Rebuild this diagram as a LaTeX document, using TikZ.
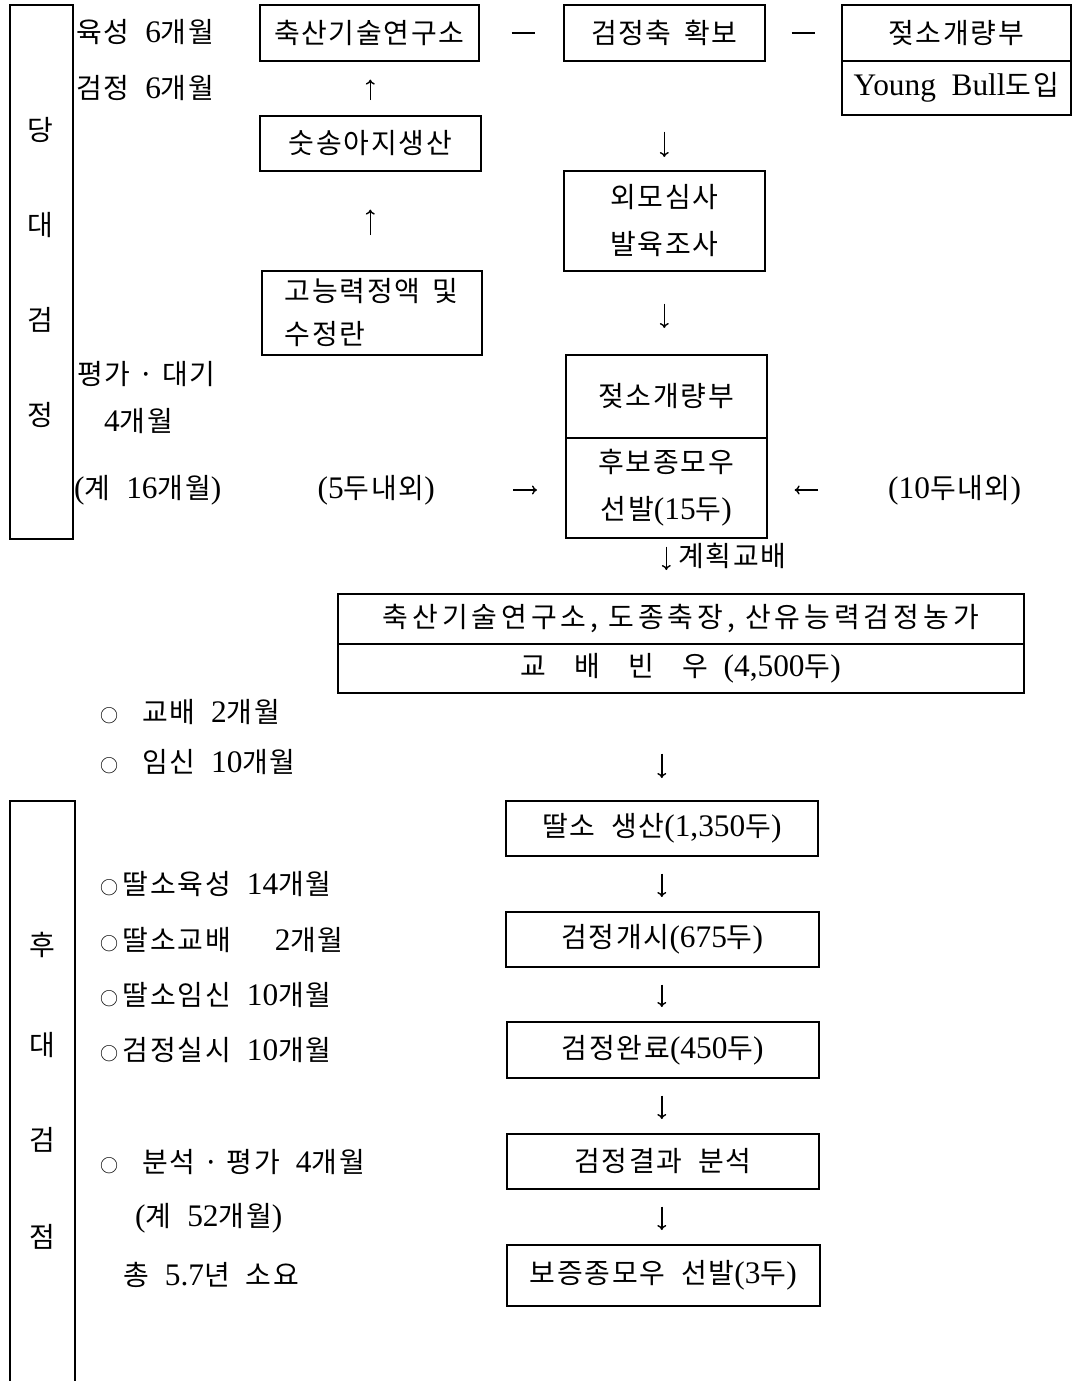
\documentclass[tikz,border=0pt]{standalone}
\usepackage{fontspec}
\setmainfont[LetterSpace=6]{Noto Sans CJK KR}
\newfontfamily\lat[Scale=1.12]{Liberation Serif}
\newcommand\nm[1]{{\lat #1}}
\newcommand\cir{{\fontsize{18}{18}\selectfont ○}}
\usetikzlibrary{arrows.meta}
\begin{document}
\begin{tikzpicture}[x=1pt,y=-1pt,
  every node/.style={font=\fontsize{28}{47}\selectfont, inner sep=0pt},
  box/.style={draw, line width=1.6pt, anchor=north west},
  lbl/.style={anchor=west},
  arr/.style={line width=1.4pt, -{To[length=5pt,width=9pt]}},
  joinline/.style={line width=2pt}]
\useasboundingbox (0,0) rectangle (1081,1381);
\fill[white] (0,0) rectangle (1081,1381);

% left period boxes
\node[box, minimum width=63pt, minimum height=534pt] (dangdae) at (9,4) {};
\node (c1) at (40,130) {당};
\node (c2) at (40,225) {대};
\node (c3) at (40,320) {검};
\node (c4) at (40,415) {정};
\node[box, minimum width=65pt, minimum height=640pt] (hudae) at (9,800) {};
\node (c5) at (42,945) {후};
\node (c6) at (42,1045) {대};
\node (c7) at (42,1140) {검};
\node (c8) at (42,1237) {점};

% top row
\node[box, minimum width=219pt, minimum height=56pt] (ch) at (259,4) {축산기술연구소};
\node[box, minimum width=201pt, minimum height=56pt] (gj) at (563,4) {검정축 \,확보};
\node[box, minimum width=229pt, minimum height=56pt] (js1) at (841,4) {젖소개량부};
\node[box, minimum width=229pt, minimum height=54pt] (yb) at (841,60) {\nm{Young \ Bull}도입};
\node[box, minimum width=221pt, minimum height=55pt] (sus) at (259,115) {숫송아지생산};
\node[box, minimum width=220pt, minimum height=84pt, align=left, font=\fontsize{28}{43}\selectfont] (go) at (261,270) {고능력정액 \,및\\수정란};
\node[box, minimum width=201pt, minimum height=100pt, align=center] (oe) at (563,170) {외모심사\\발육조사};
\node[box, minimum width=201pt, minimum height=83pt] (js2) at (565,354) {젖소개량부};
\node[box, minimum width=201pt, minimum height=100pt, align=center] (hubo) at (565,437) {후보종모우\\선발\nm{(15}두\nm{)}};

% big box
\node[box, minimum width=686pt, minimum height=50pt, font=\fontsize{28}{47}\selectfont\addfontfeature{LetterSpace=14}] (big1) at (337,593) {축산기술연구소, 도종축장, 산유능력검정농가};
\node[box, minimum width=686pt, minimum height=49pt] (big2) at (337,643) {교\quad 배\quad 빈\quad 우 \ \nm{(4,500}두\nm{)}};

% lower boxes
\node[box, minimum width=312pt, minimum height=55pt] (d1) at (505,800) {딸소 \ 생산\nm{(1,350}두\nm{)}};
\node[box, minimum width=313pt, minimum height=55pt] (d2) at (505,911) {검정개시\nm{(675}두\nm{)}};
\node[box, minimum width=312pt, minimum height=56pt] (d3) at (506,1021) {검정완료\nm{(450}두\nm{)}};
\node[box, minimum width=312pt, minimum height=55pt] (d4) at (506,1133) {검정결과 \ 분석};
\node[box, minimum width=313pt, minimum height=61pt] (d5) at (506,1244) {보증종모우 \ 선발\nm{(3}두\nm{)}};

% connectors top row
\draw[joinline, shorten <=32pt, shorten >=28pt] (ch.east) -- (gj.west);
\draw[joinline, shorten <=26pt, shorten >=26pt] (gj.east) -- (js1.west);

% vertical arrows
\draw[arr, shorten <=15pt, shorten >=18pt] (sus.north) -- (sus.north |- ch.south);
\draw[arr, shorten <=35pt, shorten >=38pt] (go.north -| sus.north) -- (sus.south);
\draw[arr, shorten <=70pt, shorten >=13pt] (gj.south) -- (oe.north);
\draw[arr, shorten <=32pt, shorten >=26pt] (oe.south) -- (oe.south |- js2.north);
\draw[arr, shorten <=8pt, shorten >=23pt] (hubo.south) -- (hubo.south |- big1.north);
\node[lbl] (gyehoek) at (678,556) {계획교배};
\draw[arr, shorten <=60pt, shorten >=22pt] (big2.south -| d1.north) -- (d1.north);
\draw[arr, shorten <=17pt, shorten >=14pt] (d1.south) -- (d2.north -| d1.south);
\draw[arr, shorten <=17pt, shorten >=14pt] (d2.south -| d1.south) -- (d3.north -| d1.south);
\draw[arr, shorten <=17pt, shorten >=14pt] (d3.south -| d1.south) -- (d4.north -| d1.south);
\draw[arr, shorten <=17pt, shorten >=14pt] (d4.south -| d1.south) -- (d5.north -| d1.south);

% side inputs
\node[anchor=east] (five) at (435,490) {\nm{(5}두내외\nm{)}};
\node[anchor=west] (ten) at (888,490) {\nm{(10}두내외\nm{)}};
\draw[arr, shorten <=78pt, shorten >=28pt] (five.east) -- (five.east -| hubo.west);
\draw[arr, shorten <=70pt, shorten >=27pt] (ten.west) -- (ten.west -| hubo.east);

% left texts
\node[lbl] (t1) at (76,32) {육성 \ \nm{6}개월};
\node[lbl] (t2) at (76,88) {검정 \ \nm{6}개월};
\node[lbl] (t3) at (77,374) {평가 · 대기};
\node[lbl] (t4) at (104,421) {\nm{4}개월};
\node[lbl] (t5) at (74,490) {\nm{(}계 \ \nm{16}개월\nm{)}};
\node[lbl] (t6) at (100,712) {\cir\ \ \ 교배 \ \nm{2}개월};
\node[lbl] (t7) at (100,762) {\cir\ \ \ 임신 \ \nm{10}개월};
\node[lbl] (t8) at (100,884) {\cir\,딸소육성 \ \nm{14}개월};
\node[lbl] (t9) at (100,940) {\cir\,딸소교배 \quad\ \nm{2}개월};
\node[lbl] (t10) at (100,995) {\cir\,딸소임신 \ \nm{10}개월};
\node[lbl] (t11) at (100,1050) {\cir\,검정실시 \ \nm{10}개월};
\node[lbl] (t12) at (100,1162) {\cir\ \ \ 분석 · 평가 \ \nm{4}개월};
\node[lbl] (t13) at (135,1218) {\nm{(}계 \ \nm{52}개월\nm{)}};
\node[lbl] (t14) at (123,1275) {총 \ \nm{5.7}년 \ 소요};
\end{tikzpicture}
\end{document}
